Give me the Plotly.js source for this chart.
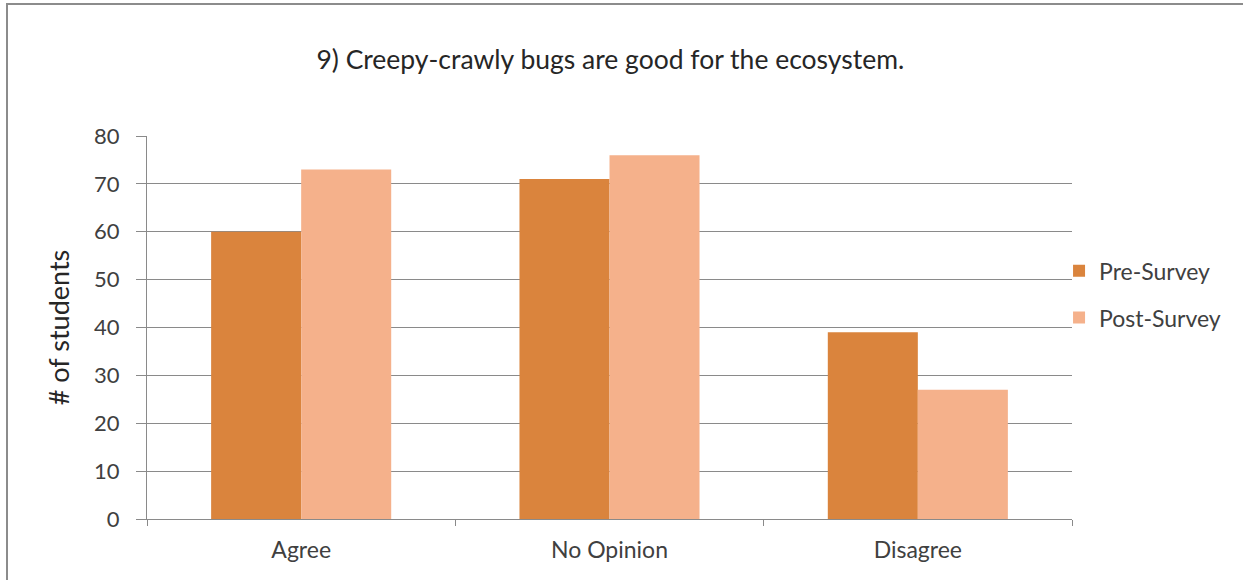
<!DOCTYPE html>
<html>
<head>
<meta charset="utf-8">
<script src="https://cdn.plot.ly/plotly-3.0.1.min.js"></script>
<style>
  html, body { margin: 0; padding: 0; background: #ffffff; }
  #wrap { position: relative; width: 1243px; height: 580px; overflow: hidden; }
  #chart { position: absolute; left: 0; top: 0; width: 1243px; height: 580px; }
  #frame {
    position: absolute; left: 6px; top: 3px; width: 1240px; height: 590px;
    border-left: 2px solid #8c8c8c; border-top: 2px solid #8c8c8c;
    border-right: 1px solid #e4e4e4;
    pointer-events: none; box-sizing: border-box;
  }
</style>
</head>
<body>
<div id="wrap">
  <div id="chart"></div>
  <div id="frame"></div>
</div>
<script>
// Survey question 9: responses before and after the unit
const categories = ['Agree', 'No Opinion', 'Disagree'];
const preSurvey = [60, 71, 39];
const postSurvey = [73, 76, 27];
const yTicks = [0, 10, 20, 30, 40, 50, 60, 70, 80];

const FONT = 'Lato, Open Sans, sans-serif';
const GRID = '#8a8a8a';

const traces = [
  {
    type: 'bar', name: 'Pre-Survey', x: categories, y: preSurvey,
    marker: { color: '#DA843D' }, legendgroup: 'pre', hoverinfo: 'y+name'
  },
  {
    type: 'bar', name: 'Post-Survey', x: categories, y: postSurvey,
    marker: { color: '#F5B18B' }, legendgroup: 'post', hoverinfo: 'y+name'
  }
];

const layout = {
  width: 1243, height: 580,
  margin: { l: 147, r: 171, t: 136, b: 61 },
  paper_bgcolor: '#ffffff', plot_bgcolor: '#ffffff',
  barmode: 'group', bargap: 0.416, bargroupgap: 0,
  title: {
    text: '9) Creepy-crawly bugs are good for the ecosystem.',
    font: { family: FONT, size: 26.5, color: '#262626' },
    x: 0.491, xanchor: 'center', y: 0.897, yanchor: 'middle'
  },
  xaxis: {
    type: 'category',
    showline: true, linecolor: GRID, linewidth: 1,
    ticks: 'outside', tickson: 'boundaries', ticklen: 6, tickcolor: GRID,
    tickfont: { family: FONT, size: 23, color: '#404040' },
    ticklabelstandoff: 10,
    showgrid: false, zeroline: false
  },
  yaxis: {
    range: [0, 80], tickvals: yTicks, ticktext: yTicks.map(String),
    showline: true, linecolor: GRID, linewidth: 1,
    ticks: 'outside', ticklen: 10, tickcolor: GRID,
    showgrid: true, gridcolor: GRID, gridwidth: 1, zeroline: false,
    tickfont: { family: FONT, size: 22, color: '#404040' },
    ticklabelstandoff: 12,
    title: { text: '# of students', font: { family: FONT, size: 27, color: '#262626' }, standoff: 16 }
  },
  legend: {
    x: 0.986, xanchor: 'left', y: 0.587, yanchor: 'middle',
    font: { family: FONT, size: 23, color: '#404040' },
    tracegroupgap: 14, bgcolor: 'rgba(0,0,0,0)'
  },
  showlegend: true
};

Plotly.newPlot('chart', traces, layout, { displayModeBar: false, staticPlot: true });
</script>
</body>
</html>
